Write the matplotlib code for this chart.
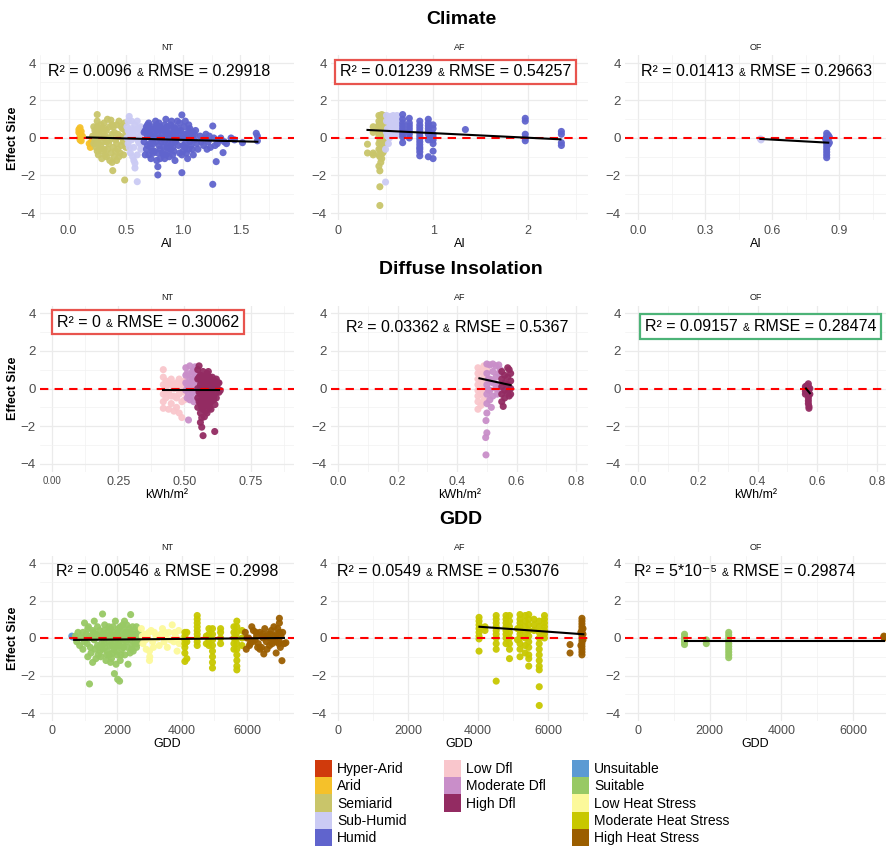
import matplotlib
matplotlib.use('Agg')
import matplotlib.pyplot as plt
import numpy as np
from matplotlib.patches import Patch
from matplotlib.ticker import MultipleLocator
from matplotlib.offsetbox import TextArea, HPacker, AnchoredOffsetbox

plt.rcParams['font.family'] = ['Liberation Sans', 'DejaVu Sans']

# ---------------------------------------------------------------------------
# Data: (x, effect size) pairs per class and panel
# ---------------------------------------------------------------------------
# Climate (AI) - NT
ai_nt_arid = [(0.09, 0.45), (0.09, 0.30), (0.10, 0.20), (0.10, 0.05), (0.10, -0.10),
              (0.11, 0.35), (0.11, -0.15), (0.12, 0.10), (0.10, 0.55), (0.18, -0.30),
              (0.19, -0.50), (0.20, -0.20)]
ai_nt_semi = [(0.21, 0.1), (0.22, -0.3), (0.23, 0.4), (0.24, -0.5), (0.25, 1.25), (0.25, 0.9),
              (0.25, 0.6), (0.25, 0.3), (0.25, -0.1), (0.25, -0.7), (0.26, -0.9), (0.27, 0.2),
              (0.28, -0.4), (0.29, 0.5), (0.30, -0.2), (0.31, 0.8), (0.31, -0.6), (0.32, 0.1),
              (0.33, -1.0), (0.33, 0.4), (0.34, 1.0), (0.35, -0.3), (0.36, 0.6), (0.37, -0.8),
              (0.37, 0.95), (0.38, -1.3), (0.38, 0.2), (0.386, -1.74), (0.39, -0.5), (0.40, 0.3),
              (0.41, -0.1), (0.42, 0.7), (0.43, -0.6), (0.44, 0.9), (0.45, 0.1), (0.46, -0.4),
              (0.47, 0.5), (0.48, -0.2), (0.49, 0.8), (0.49, -2.24), (0.44, -1.0), (0.29, -1.1),
              (0.35, 0.0), (0.27, -0.6), (0.23, -0.1), (0.26, 0.5), (0.30, 0.3), (0.34, -0.6),
              (0.39, 0.6), (0.42, -0.3), (0.45, -0.8), (0.47, 0.0), (0.32, -0.9), (0.40, -1.0),
              (0.22, 0.6), (0.24, 0.2), (0.26, -0.3), (0.28, 0.7), (0.30, -0.7), (0.32, 0.5),
              (0.33, -0.2), (0.36, -0.1), (0.38, 0.7), (0.41, -0.7), (0.43, 0.2), (0.46, 0.6),
              (0.48, -0.9), (0.50, 0.3), (0.50, -0.5), (0.31, 0.0), (0.36, -1.2), (0.42, -1.2)]
ai_nt_subh = [(0.51, 0.6), (0.52, -0.3), (0.53, 1.15), (0.53, 0.2), (0.54, -0.8), (0.55, 0.9),
              (0.55, -0.1), (0.56, 0.4), (0.57, -0.5), (0.57, -1.2), (0.58, -1.6), (0.58, 0.7),
              (0.59, 0.0), (0.60, -2.33), (0.60, -0.9), (0.61, 0.5), (0.62, -0.3), (0.63, 0.6),
              (0.63, -0.6), (0.64, 0.2), (0.56, -1.0), (0.52, 0.9), (0.54, 0.3), (0.60, 0.9),
              (0.58, -1.35), (0.62, 0.1), (0.51, 0.0), (0.55, 0.5), (0.53, -0.5), (0.57, 0.1),
              (0.59, 0.4), (0.61, -0.2), (0.64, -0.4), (0.52, 0.4)]
ai_nt_humid = [(0.66, -0.2), (0.67, 0.4), (0.68, -0.6), (0.69, 0.1), (0.70, 0.8), (0.70, -0.9),
               (0.71, -0.3), (0.72, 0.5), (0.73, -0.1), (0.74, 0.2), (0.75, -0.7), (0.76, 0.9),
               (0.77, -1.2), (0.78, -1.53), (0.78, -1.97), (0.78, 0.3), (0.79, -0.4), (0.80, 0.6),
               (0.81, 0.0), (0.82, -0.8), (0.83, 0.4), (0.84, -0.2), (0.85, 1.0), (0.86, -0.5),
               (0.87, 0.2), (0.88, -1.0), (0.89, 0.7), (0.90, -0.3), (0.91, 0.1), (0.92, -0.7),
               (0.93, 0.5), (0.94, -0.1), (0.95, 0.9), (0.96, -0.4), (0.97, 0.3), (0.99, 1.23),
               (0.99, -1.85), (0.99, -0.9), (1.00, 0.0), (1.01, 0.6), (1.02, -0.5), (1.03, 0.2),
               (1.04, -1.1), (1.05, 0.4), (1.06, -0.2), (1.07, 0.1), (1.08, -0.6), (1.09, 0.3),
               (1.10, -0.1), (1.12, -0.3), (1.15, 0.1), (1.18, -0.4), (1.20, 0.2), (1.22, -0.2),
               (1.24, -0.5), (1.26, 0.64), (1.26, -2.47), (1.27, 0.0), (1.29, -1.26), (1.30, -0.3),
               (1.32, -0.1), (1.35, -0.78), (1.36, -0.2), (1.42, 0.0), (1.45, -0.1), (1.52, -0.25),
               (1.64, 0.25), (1.65, 0.1), (1.65, -0.15), (0.72, -0.5), (0.83, -0.9), (0.93, -1.2),
               (1.00, -0.7), (0.75, 0.1), (0.88, 0.5), (0.97, 0.8), (0.80, -0.6), (0.90, 0.2),
               (1.05, 0.7), (0.70, 0.3), (0.68, 0.6), (0.74, -0.3), (0.77, 0.7), (0.81, -0.2),
               (0.85, 0.1), (0.87, -0.7), (0.91, -0.5), (0.95, 0.0), (0.98, 0.4), (1.02, -0.3),
               (1.07, -0.4), (0.79, 0.0), (0.86, 0.6), (0.92, 0.3), (1.03, -0.8), (1.10, 0.2),
               (0.67, -0.9), (0.69, 0.7), (0.71, 0.2), (0.72, -1.1), (0.73, 0.6), (0.74, -0.8),
               (0.76, -0.2), (0.77, 0.4), (0.78, -0.8), (0.79, 0.8), (0.80, -1.1), (0.81, 0.5),
               (0.82, 0.2), (0.83, -0.5), (0.84, 0.7), (0.85, -0.9), (0.86, 0.3), (0.87, -0.3),
               (0.88, 0.0), (0.89, -0.6), (0.90, 0.9), (0.91, -0.9), (0.92, 0.6), (0.93, -0.2),
               (0.94, 0.3), (0.96, 0.5), (0.97, -0.8), (0.98, 0.0), (1.00, -0.4), (1.01, 0.2),
               (1.02, 0.9), (1.04, 0.0), (1.05, -0.6), (1.06, 0.5), (1.08, 0.1), (1.09, -0.9),
               (1.11, 0.4), (1.13, -0.6), (1.16, -0.2), (1.19, 0.0), (1.21, -0.6), (1.23, 0.1),
               (1.28, -0.4), (1.33, 0.0), (1.38, -0.3), (0.66, 0.3), (0.69, -0.4), (0.73, -0.7),
               (0.76, 0.5), (0.84, -1.1)]
# Climate (AI) - AF
ai_af_semi = [(0.31, -0.33), (0.31, -0.8), (0.37, 0.6), (0.37, 0.3), (0.37, -0.8), (0.37, -0.9),
              (0.43, 1.2), (0.43, 0.9), (0.43, 0.5), (0.43, 0.1), (0.43, -0.3), (0.43, -0.9),
              (0.43, -1.5), (0.44, -1.75), (0.44, -2.6), (0.44, -3.6), (0.46, 1.25), (0.46, 1.0),
              (0.46, 0.7), (0.46, 0.4), (0.46, 0.0), (0.46, -0.5), (0.46, -1.1), (0.48, 1.2),
              (0.48, 0.8), (0.48, 0.3), (0.48, -0.2), (0.48, -0.7), (0.49, 1.1), (0.49, 0.6),
              (0.44, 0.7), (0.44, 0.3), (0.44, -0.1), (0.44, -0.6), (0.45, -1.3), (0.47, 0.2),
              (0.47, -0.8), (0.45, 1.1), (0.45, 0.6), (0.45, -0.2), (0.43, 0.3), (0.43, -0.6),
              (0.43, 0.7), (0.46, 0.2), (0.46, -0.3), (0.46, -0.8), (0.48, 0.0), (0.48, -0.45),
              (0.48, 1.0), (0.44, -1.0), (0.45, 0.0), (0.47, -0.4), (0.47, 0.9), (0.49, 0.3)]
ai_af_subh = [(0.50, -0.6), (0.50, -2.35), (0.51, 1.2), (0.51, 0.9), (0.52, 0.5), (0.52, 0.1),
              (0.55, 1.15), (0.55, 0.7), (0.58, 1.2), (0.58, 0.9), (0.60, 0.5), (0.60, 0.2),
              (0.62, 1.2), (0.62, 0.8), (0.64, 0.4), (0.65, 1.0), (0.66, 0.3), (0.53, -0.3),
              (0.56, 0.4), (0.59, 0.7), (0.63, 0.6), (0.51, 0.3), (0.53, 0.9), (0.54, 0.0),
              (0.57, 0.5), (0.61, 1.0), (0.63, 0.2), (0.66, 0.8), (0.55, 0.2)]
ai_af_humid = [(0.68, 1.25), (0.68, 1.0), (0.68, 0.8), (0.68, 0.5), (0.68, 0.2), (0.68, -0.25),
               (0.68, 0.65), (0.68, 0.35), (0.68, 0.05), (0.75, 1.05), (0.75, 0.8), (0.75, 0.5),
               (0.75, 0.2), (0.75, 0.0), (0.75, 0.65), (0.75, 0.35), (0.86, 0.9), (0.86, 0.7),
               (0.86, 0.4), (0.86, 0.1), (0.86, -0.2), (0.86, -0.5), (0.86, -0.75), (0.86, -0.95),
               (0.86, 0.55), (0.86, 0.25), (0.86, -0.05), (0.86, -0.35), (0.86, -0.6), (0.95, 1.0),
               (0.95, 0.8), (0.95, 0.5), (0.95, 0.2), (0.95, -0.1), (0.95, -1.0), (0.95, 0.65),
               (0.95, 0.35), (1.0, 0.7), (1.0, 0.5), (1.0, 0.2), (1.0, -0.3), (1.0, -0.7),
               (1.0, -1.1), (1.0, 0.05), (1.0, -0.1), (1.34, 0.45), (1.97, 1.05), (1.97, 0.9),
               (1.97, 0.2), (1.97, 0.0), (1.97, -0.15), (2.35, 0.35), (2.35, 0.2), (2.35, -0.25),
               (2.35, -0.4)]
# Climate (AI) - OF
ai_of_subh = [(0.547, -0.05), (0.55, -0.1)]
ai_of_humid = [(0.843, 0.25), (0.843, 0.1), (0.843, 0.0), (0.843, -0.1), (0.843, -0.2),
               (0.843, -0.3), (0.843, -0.45), (0.843, -0.6), (0.843, -0.75), (0.843, -0.9),
               (0.843, -1.05), (0.85, 0.15), (0.85, -0.35), (0.838, -0.05), (0.855, 0.05),
               (0.855, -0.25)]
# Diffuse insolation - NT
dif_nt_low = [(0.42, 1.0), (0.42, 0.6), (0.42, 0.2), (0.42, -0.3), (0.42, -0.7), (0.42, -1.05),
              (0.43, 0.1), (0.43, -0.5), (0.44, 0.3), (0.44, -0.2), (0.45, -0.8), (0.45, 0.2),
              (0.46, 0.0), (0.46, -0.4), (0.47, 0.3), (0.47, -1.0), (0.48, 0.5), (0.48, -0.3),
              (0.49, -1.54), (0.49, 0.1), (0.49, -0.7), (0.50, 0.4), (0.50, -0.2), (0.44, -1.1),
              (0.46, -1.2), (0.48, -1.3), (0.43, 0.4), (0.43, -0.2), (0.45, 0.5), (0.46, 0.2),
              (0.47, -0.5), (0.48, 0.1), (0.49, 0.3), (0.50, -0.6), (0.45, -0.4), (0.47, 0.0),
              (0.50, 0.1)]
dif_nt_mod = [(0.505, 1.1), (0.505, 0.7), (0.505, 0.3), (0.505, -0.1), (0.51, -0.5), (0.515, -1.67),
              (0.52, 1.2), (0.52, 0.5), (0.52, 0.0), (0.525, -0.4), (0.53, 0.9), (0.53, 0.2),
              (0.535, -0.7), (0.54, 1.15), (0.54, 0.6), (0.545, -0.2), (0.55, 0.3), (0.55, -0.5),
              (0.51, 0.2), (0.53, -0.2), (0.51, 0.8), (0.515, -0.3), (0.52, -0.6), (0.525, 0.7),
              (0.53, 0.4), (0.54, -0.1), (0.545, 0.8), (0.55, 0.0), (0.535, 1.0), (0.52, 0.25)]
dif_nt_high = [(0.55, 1.0), (0.55, 0.5), (0.55, 0.0), (0.55, -0.5), (0.55, -1.0), (0.555, 1.2),
               (0.56, 0.7), (0.56, 0.2), (0.56, -0.3), (0.56, -0.8), (0.56, -1.3), (0.56, -1.8),
               (0.565, -2.05), (0.57, -2.5), (0.57, 0.9), (0.57, 0.4), (0.57, -0.1), (0.57, -0.6),
               (0.57, -1.1), (0.575, -1.5), (0.58, 0.6), (0.58, 0.1), (0.58, -0.4), (0.58, -0.9),
               (0.585, -1.3), (0.59, 0.5), (0.59, 0.0), (0.59, -0.5), (0.595, -1.0), (0.60, 0.3),
               (0.60, -0.2), (0.60, -0.7), (0.605, 0.6), (0.61, 0.1), (0.61, -0.4), (0.614, -2.28),
               (0.615, -0.85), (0.62, 0.5), (0.62, 0.2), (0.62, -0.2), (0.625, 0.0), (0.63, 0.3),
               (0.635, -0.1), (0.565, 0.0), (0.575, 0.3), (0.585, 0.8), (0.595, 0.2), (0.605, -0.1),
               (0.555, -0.2), (0.565, -1.55), (0.56, 0.45), (0.58, -0.2), (0.60, 0.0), (0.57, -0.35),
               (0.555, 0.6), (0.56, -0.05), (0.565, 0.35), (0.565, -0.7), (0.57, 0.65), (0.575, -0.8),
               (0.58, -1.2), (0.585, 0.3), (0.585, -0.6), (0.59, 0.9), (0.59, -0.3), (0.595, 0.6),
               (0.595, -0.7), (0.60, -1.1), (0.605, 0.2), (0.61, -0.6), (0.615, 0.4), (0.62, -0.5),
               (0.625, 0.3), (0.63, -0.2), (0.555, -0.7), (0.565, -1.0), (0.575, 0.05), (0.58, -0.6),
               (0.59, -0.9), (0.60, -0.45), (0.61, 0.35), (0.62, 0.0)]
# Diffuse insolation - AF
dif_af_low = [(0.47, 1.1), (0.47, 0.8), (0.47, 0.5), (0.47, 0.2), (0.47, -0.1), (0.47, -0.4),
              (0.47, -0.7), (0.47, -1.1), (0.48, 0.9), (0.48, 0.3), (0.48, -0.3), (0.48, -0.9),
              (0.49, 1.2), (0.49, 0.6), (0.49, 0.0), (0.49, -0.6), (0.50, 1.0), (0.50, 0.4)]
dif_af_mod = [(0.50, 1.3), (0.50, 0.8), (0.50, 0.2), (0.50, -0.3), (0.50, -0.8), (0.50, -1.3),
              (0.497, -1.7), (0.50, -2.35), (0.496, -2.6), (0.497, -3.52), (0.51, 1.25), (0.51, 0.5),
              (0.51, -0.1), (0.51, -0.6), (0.515, -1.0), (0.52, 1.3), (0.52, 0.9), (0.52, 0.3),
              (0.52, -0.4), (0.53, 1.2), (0.53, 0.6), (0.53, 0.0), (0.535, -0.3), (0.54, 1.25),
              (0.54, 0.8), (0.54, 0.2), (0.545, 1.0), (0.545, -0.1), (0.505, 0.5), (0.505, -0.05)]
dif_af_high = [(0.55, 0.9), (0.55, 0.5), (0.55, 0.1), (0.55, -0.3), (0.55, -0.7), (0.555, -0.95),
               (0.56, 0.7), (0.56, 0.3), (0.56, -0.1), (0.56, -0.5), (0.57, 1.1), (0.57, 0.6),
               (0.57, 0.2), (0.57, -0.2), (0.575, 1.0), (0.575, -0.4), (0.58, 0.4), (0.58, 0.0),
               (0.58, -0.3), (0.58, 0.8)]
# Diffuse insolation - OF
dif_of_high = [(0.56, 0.1), (0.56, 0.0), (0.56, -0.15), (0.56, -0.3), (0.565, 0.15), (0.57, 0.25),
               (0.57, 0.1), (0.57, -0.05), (0.57, -0.2), (0.57, -0.35), (0.57, -0.5), (0.57, -0.65),
               (0.57, -0.8), (0.572, -0.95), (0.572, -1.05), (0.575, 0.0), (0.575, -0.3)]
# GDD - NT
gdd_nt_unsuit = [(609, 0.1), (640, 0.05)]
gdd_nt_suit = [(720, 0.1), (760, -0.2), (800, 0.3), (850, -0.4), (900, 0.0), (950, -0.6), (1000, 0.8),
               (1050, 0.2), (1080, -0.3), (1100, 0.5), (1153, -2.45), (1200, -0.8), (1250, 0.4),
               (1300, -0.1), (1350, -1.1), (1400, 0.6), (1450, -0.5), (1500, 0.1), (1555, 1.28),
               (1600, -0.3), (1620, 0.7), (1680, -0.9), (1700, 0.3), (1750, -0.2), (1800, 0.5),
               (1830, -1.1), (1870, 0.0), (1900, -0.6), (1920, -1.9), (1950, 0.9), (1970, -1.4),
               (2000, 0.2), (2020, -2.2), (2050, -0.4), (2080, -2.3), (2100, 0.6), (2120, -0.9),
               (2150, 0.1), (2200, -0.5), (2230, 0.9), (2260, 0.3), (2300, -0.2), (2340, -1.4),
               (2380, 0.5), (2420, 1.25), (2450, -0.6), (2500, 0.2), (2550, -0.3), (2600, 0.6),
               (2650, -0.1), (1100, -1.0), (1300, 0.9), (1500, -1.0), (1700, -0.7), (2000, -0.9),
               (2200, 0.4), (2400, -0.8), (1900, 0.3), (1400, -0.4), (2600, -0.5), (1000, -0.2),
               (2100, -1.2), (1800, -1.3), (1250, -1.3), (1600, 0.4), (2300, 0.7), (950, 0.3),
               (2500, -0.7), (1150, 0.1), (1350, 0.2), (1550, -0.6), (1750, 0.6), (1950, -0.2),
               (2150, -0.6), (2350, 0.0), (2550, 0.4), (1650, 0.0), (1850, -0.4), (2050, 0.5),
               (1120, 0.6), (1180, -0.5), (1230, 0.0), (1280, 0.3), (1330, -0.6), (1380, 0.1),
               (1420, -0.9), (1470, 0.4), (1520, -0.3), (1570, 0.2), (1630, -0.5), (1660, -1.2),
               (1720, 0.1), (1780, -0.4), (1820, 0.2), (1860, -0.8), (1880, 0.6), (1930, 0.0),
               (1980, -0.7), (2030, 0.3), (2060, -0.2), (2110, 0.0), (2170, -0.3), (2180, 0.7),
               (2240, -0.9), (2280, 0.1), (2320, -0.5), (2360, 0.3), (2400, -0.1), (2440, 0.2),
               (2470, -0.4), (2520, 0.0), (2580, 0.1), (2620, -0.3), (2660, 0.3), (2480, 0.6),
               (2250, -0.1), (2010, -0.4), (1760, -0.9), (1480, -0.7)]
gdd_nt_low = [(2750, 0.5), (2800, -0.3), (2850, 0.2), (2900, -0.6), (2950, 0.0), (3000, -1.2),
              (3008, -1.0), (3050, 0.4), (3100, -0.2), (3200, 0.1), (3300, -0.4), (3400, 0.5),
              (3500, 0.0), (3550, -0.5), (3600, 0.3), (3700, 0.7), (3750, -0.2), (3800, 0.1),
              (3850, -0.7), (3900, 0.4), (3950, -0.1), (3000, -0.7), (3150, 0.3), (3450, -0.2),
              (2780, 0.1), (2880, -0.1), (2980, 0.3), (3120, -0.5), (3250, 0.0), (3350, 0.2),
              (3480, 0.3), (3650, -0.1), (3780, 0.3), (3920, -0.3)]
gdd_nt_mod = [(4090, 0.3), (4090, 0.1), (4090, -0.1), (4090, -0.3), (4090, -0.5), (4090, -0.8),
              (4090, -1.25), (4150, 0.3), (4150, -0.2), (4150, -1.1), (4470, 1.2), (4470, 1.0),
              (4470, 0.8), (4470, 0.6), (4470, 0.4), (4470, 0.2), (4470, 0.0), (4470, -0.2),
              (4470, -0.4), (4750, 0.1), (4750, -0.3), (4830, 0.5), (4830, 0.2), (4830, -0.1),
              (4830, -0.4), (4940, 0.5), (4940, 0.2), (4940, -0.1), (4940, -0.4), (4940, -0.7),
              (4940, -1.0), (4940, -1.3), (4940, -1.6), (5190, 0.5), (5190, 0.3), (5190, 0.0),
              (5190, -0.3), (5600, 0.6), (5600, 0.3), (5600, 0.0), (5600, -0.3), (5600, -0.6),
              (5690, 0.9), (5690, 0.6), (5690, 0.3), (5690, 0.0), (5690, -0.3), (5690, -0.6),
              (5690, -0.9), (5690, -1.2), (5690, -1.5), (5690, -1.7), (5850, 0.4), (5850, 0.0),
              (5850, -0.4)]
gdd_nt_high = [(5950, 0.3), (5980, -0.6), (6050, 0.0), (6100, -0.3), (6200, 0.4), (6250, -0.1),
               (6300, 0.1), (6350, -0.3), (6400, 0.3), (6450, -0.5), (6500, 0.0), (6520, -0.85),
               (6550, 0.5), (6600, -0.2), (6650, 0.2), (6700, -0.4), (6750, 0.4), (6800, -0.1),
               (6850, 0.1), (6900, -0.8), (6950, 0.5), (7000, 1.05), (7000, 0.8), (7000, 0.3),
               (7000, -0.2), (7030, -0.5), (7079, -1.21), (7150, -0.3), (7200, -0.25), (6150, 0.6),
               (6400, -0.6), (6700, 0.0), (6000, 0.0), (6080, -0.4), (6180, -0.2), (6280, 0.3),
               (6330, -0.5), (6480, 0.2), (6580, 0.1), (6620, -0.6), (6720, 0.2), (6780, -0.3),
               (6830, 0.6), (6880, -0.2), (6920, 0.2), (6980, -0.3), (7050, 0.1), (7100, 0.3)]
# GDD - AF
gdd_af_mod = [(4030, 1.1), (4030, 0.9), (4030, 0.7), (4030, 0.5), (4030, 0.3), (4030, 0.1),
              (4030, -0.05), (4030, -0.7), (4200, 0.6), (4200, 0.4), (4520, 1.2), (4520, 1.0),
              (4520, 0.8), (4520, 0.6), (4520, 0.4), (4520, 0.2), (4520, 0.0), (4520, -0.3),
              (4520, -0.6), (4520, -2.3), (4800, 1.2), (4800, 1.0), (4800, 0.8), (4800, 0.6),
              (4800, 0.4), (4800, 0.2), (4800, 0.0), (4800, -0.3), (4900, 1.2), (4900, 0.9),
              (4900, 0.6), (4900, 0.3), (4900, 0.0), (4900, -0.3), (4900, -0.6), (4900, -1.1),
              (5200, 1.25), (5200, 1.0), (5200, 0.8), (5200, 0.6), (5200, 0.4), (5200, 0.2),
              (5200, 0.0), (5200, -0.3), (5200, -0.6), (5200, -1.0), (5350, 1.2), (5350, 0.9),
              (5350, 0.6), (5350, 0.3), (5350, 0.0), (5350, -0.4), (5350, -0.8), (5450, 1.25),
              (5450, 1.0), (5450, 0.7), (5450, 0.4), (5450, 0.1), (5450, -0.2), (5450, -0.5),
              (5450, -0.9), (5450, -1.1), (5450, -1.5), (5600, 1.0), (5600, 0.7), (5600, 0.4),
              (5750, 0.9), (5750, 0.6), (5750, 0.3), (5750, 0.0), (5750, -0.3), (5750, -0.6),
              (5750, -0.9), (5750, -1.2), (5750, -1.5), (5750, -1.7), (5750, -2.6), (5750, -3.6),
              (5900, 1.2), (5900, 1.0), (5900, 0.8), (5900, 0.6), (5900, 0.4), (5900, 0.2),
              (5900, 0.0), (5130, 0.5), (5130, -0.1)]
gdd_af_high = [(6630, -0.35), (6630, -0.8), (6970, 1.05), (6970, 0.9), (6970, 0.75), (6970, 0.6),
               (6970, 0.45), (6970, 0.3), (6970, 0.15), (6970, 0.0), (6970, -0.15), (6970, -0.3),
               (6970, -0.45), (6970, -0.6), (6970, -0.75), (6970, -0.9), (7000, 0.5), (7000, 0.2),
               (7000, -0.1), (6940, 0.3), (6940, -0.4)]
# GDD - OF
gdd_of_suit = [(1297, 0.2), (1297, 0.05), (1297, -0.1), (1297, -0.2), (1297, -0.35), (1905, -0.1),
               (1905, -0.3), (2530, 0.3), (2530, 0.15), (2530, 0.0), (2530, -0.15), (2530, -0.3),
               (2530, -0.45), (2530, -0.6), (2530, -0.75), (2530, -0.9), (2530, -1.05)]
gdd_of_high = [(6862, 0.05), (6870, 0.0), (6860, 0.1)]

# Regression line end points (x0, x1), (y0, y1)
fit_ai_nt = ([0.16, 1.65], [0.03, -0.2])
fit_ai_af = ([0.31, 2.34], [0.43, -0.07])
fit_ai_of = ([0.547, 0.85], [-0.05, -0.25])
fit_dif_nt = ([0.42, 0.63], [-0.1, -0.1])
fit_dif_af = ([0.475, 0.58], [0.54, 0.18])
fit_dif_of = ([0.562, 0.575], [0.0, -0.25])
fit_gdd_nt = ([680, 7140], [-0.1, 0.0])
fit_gdd_af = ([4040, 7010], [0.6, 0.2])
fit_gdd_of = ([1300, 6870], [-0.15, -0.15])

# Fit statistics
r2_ai = ['0.0096', '0.01239', '0.01413']
rmse_ai = ['0.29918', '0.54257', '0.29663']
r2_dif = ['0', '0.03362', '0.09157']
rmse_dif = ['0.30062', '0.5367', '0.28474']
r2_gdd = ['0.00546', '0.0549', '5*10\u207b\u2075']
rmse_gdd = ['0.2998', '0.53076', '0.29874']

# Tick labels
ticks_ai_nt = [0.0, 0.5, 1.0, 1.5]
ticks_ai_af = [0, 1, 2]
ticks_ai_of = [0.0, 0.3, 0.6, 0.9]
ticks_dif_nt = [0.0, 0.25, 0.5, 0.75]
ticks_dif = [0.0, 0.2, 0.4, 0.6, 0.8]
ticks_gdd = [0, 2000, 4000, 6000]

# Legend entries
climate_classes = ['Hyper-Arid', 'Arid', 'Semiarid', 'Sub-Humid', 'Humid']
dfl_classes = ['Low Dfl', 'Moderate Dfl', 'High Dfl']
gdd_classes = ['Unsuitable', 'Suitable', 'Low Heat Stress', 'Moderate Heat Stress', 'High Heat Stress']

colors = {
    'Hyper-Arid': '#D03A0C', 'Arid': '#F5C12A', 'Semiarid': '#C9C56A',
    'Sub-Humid': '#CBCBF4', 'Humid': '#6064CD',
    'Low Dfl': '#F9C6CC', 'Moderate Dfl': '#C98EC9', 'High Dfl': '#932B62',
    'Unsuitable': '#5B9AD3', 'Suitable': '#98C964', 'Low Heat Stress': '#FCF99A',
    'Moderate Heat Stress': '#C8C800', 'High Heat Stress': '#9B5E00',
}

# ---------------------------------------------------------------------------
# Figure layout (pixel-based panel rectangles)
# ---------------------------------------------------------------------------
W, H = 889, 847
fig = plt.figure(figsize=(W / 100, H / 100), dpi=100)

col_px = [(40, 294), (331, 588), (625, 886)]
row_px = [(55.5, 220.5), (305.5, 471.5), (555.5, 720.5)]


def make_ax(r, c):
    x0, x1 = col_px[c]
    y0, y1 = row_px[r]
    return fig.add_axes([x0 / W, 1 - y1 / H, (x1 - x0) / W, (y1 - y0) / H])


def add_stat(ax, r2, rmse, fx, fy=0.9, edge=None):
    parts = [TextArea('R\u00b2 = ' + r2, textprops=dict(size=11.5)),
             TextArea('&', textprops=dict(size=7.5)),
             TextArea('RMSE = ' + rmse, textprops=dict(size=11.5))]
    pack = HPacker(children=parts, align='baseline', pad=0, sep=3.5)
    box = AnchoredOffsetbox(loc='center', child=pack, pad=0.3, borderpad=0,
                            frameon=edge is not None, prop=dict(size=11.5),
                            bbox_to_anchor=(fx, fy), bbox_transform=ax.transAxes)
    if edge is not None:
        box.patch.set_edgecolor(edge)
        box.patch.set_linewidth(1.6)
    ax.add_artist(box)


def style_panel(ax, xlim, xticks, minor, xlabel, strip, left):
    ax.set_xlim(*xlim)
    ax.set_ylim(-4.4, 4.4)
    ax.set_xticks(xticks)
    ax.xaxis.set_minor_locator(MultipleLocator(minor))
    ax.set_yticks([-4, -2, 0, 2, 4])
    ax.yaxis.set_minor_locator(MultipleLocator(1))
    ax.grid(True, which='major', color='#EBEBEB', lw=0.9)
    ax.grid(True, which='minor', color='#F2F2F2', lw=0.5)
    ax.set_axisbelow(True)
    for s in ax.spines.values():
        s.set_visible(False)
    ax.tick_params(which='both', length=0)
    ax.tick_params(axis='x', labelsize=9, labelcolor='#4D4D4D', pad=3)
    ax.tick_params(axis='y', labelsize=9.5, labelcolor='#4D4D4D', pad=3)
    ax.set_xlabel(xlabel, fontsize=9, labelpad=1)
    if left:
        ax.set_ylabel('Effect Size', fontsize=9, fontweight='bold', labelpad=1)
    ax.set_title(strip, fontsize=6.5, color='#1A1A1A', pad=4)
    ax.axhline(0, color='red', ls=(0, (4, 3)), lw=1.5, zorder=3)


def scatter(ax, pts, cls):
    arr = np.array(pts, dtype=float)
    ax.scatter(arr[:, 0], arr[:, 1], s=26, color=colors[cls], alpha=0.95,
               edgecolors='none', zorder=2)


def fit(ax, line):
    ax.plot(line[0], line[1], color='black', lw=1.5, zorder=4)


# Row 1: Climate
ax = make_ax(0, 0)
style_panel(ax, (-0.25, 1.97), ticks_ai_nt, 0.25, 'AI', 'NT', True)
for pts, cls in [(ai_nt_arid, 'Arid'), (ai_nt_semi, 'Semiarid'),
                 (ai_nt_subh, 'Sub-Humid'), (ai_nt_humid, 'Humid')]:
    scatter(ax, pts, cls)
fit(ax, fit_ai_nt)
add_stat(ax, r2_ai[0], rmse_ai[0], 0.47)

ax = make_ax(0, 1)
style_panel(ax, (-0.074, 2.63), ticks_ai_af, 0.5, 'AI', 'AF', False)
for pts, cls in [(ai_af_semi, 'Semiarid'), (ai_af_subh, 'Sub-Humid'), (ai_af_humid, 'Humid')]:
    scatter(ax, pts, cls)
fit(ax, fit_ai_af)
add_stat(ax, r2_ai[1], rmse_ai[1], 0.486, edge='#E8544E')

ax = make_ax(0, 2)
style_panel(ax, (-0.058, 1.108), ticks_ai_of, 0.15, 'AI', 'OF', False)
for pts, cls in [(ai_of_subh, 'Sub-Humid'), (ai_of_humid, 'Humid')]:
    scatter(ax, pts, cls)
fit(ax, fit_ai_of)
add_stat(ax, r2_ai[2], rmse_ai[2], 0.504)

# Row 2: Diffuse insolation
ax = make_ax(1, 0)
style_panel(ax, (-0.045, 0.913), ticks_dif_nt, 0.125, 'kWh/m\u00b2', 'NT', True)
ax.set_xticklabels(['0.00', '0.25', '0.50', '0.75'])
ax.get_xticklabels()[0].set_fontsize(7)
for pts, cls in [(dif_nt_low, 'Low Dfl'), (dif_nt_mod, 'Moderate Dfl'), (dif_nt_high, 'High Dfl')]:
    scatter(ax, pts, cls)
fit(ax, fit_dif_nt)
add_stat(ax, r2_dif[0], rmse_dif[0], 0.425, edge='#E8544E')

ax = make_ax(1, 1)
style_panel(ax, (-0.024, 0.84), ticks_dif, 0.1, 'kWh/m\u00b2', 'AF', False)
for pts, cls in [(dif_af_low, 'Low Dfl'), (dif_af_mod, 'Moderate Dfl'), (dif_af_high, 'High Dfl')]:
    scatter(ax, pts, cls)
fit(ax, fit_dif_af)
add_stat(ax, r2_dif[1], rmse_dif[1], 0.49, fy=0.87)

ax = make_ax(1, 2)
style_panel(ax, (-0.044, 0.83), ticks_dif, 0.1, 'kWh/m\u00b2', 'OF', False)
scatter(ax, dif_of_high, 'High Dfl')
fit(ax, fit_dif_of)
add_stat(ax, r2_dif[2], rmse_dif[2], 0.52, fy=0.875, edge='#4CB377')

# Row 3: GDD
ax = make_ax(2, 0)
style_panel(ax, (-371, 7450), ticks_gdd, 1000, 'GDD', 'NT', True)
for pts, cls in [(gdd_nt_unsuit, 'Unsuitable'), (gdd_nt_suit, 'Suitable'),
                 (gdd_nt_low, 'Low Heat Stress'), (gdd_nt_mod, 'Moderate Heat Stress'),
                 (gdd_nt_high, 'High Heat Stress')]:
    scatter(ax, pts, cls)
fit(ax, fit_gdd_nt)
add_stat(ax, r2_gdd[0], rmse_gdd[0], 0.50)

ax = make_ax(2, 1)
style_panel(ax, (-200, 7143), ticks_gdd, 1000, 'GDD', 'AF', False)
for pts, cls in [(gdd_af_mod, 'Moderate Heat Stress'), (gdd_af_high, 'High Heat Stress')]:
    scatter(ax, pts, cls)
fit(ax, fit_gdd_af)
add_stat(ax, r2_gdd[1], rmse_gdd[1], 0.455)

ax = make_ax(2, 2)
style_panel(ax, (-364, 6919), ticks_gdd, 1000, 'GDD', 'OF', False)
for pts, cls in [(gdd_of_suit, 'Suitable'), (gdd_of_high, 'High Heat Stress')]:
    scatter(ax, pts, cls)
fit(ax, fit_gdd_of)
add_stat(ax, r2_gdd[2], rmse_gdd[2], 0.458)

# Row titles
for y_px, title in [(19, 'Climate'), (269, 'Diffuse Insolation'), (519, 'GDD')]:
    fig.text(461 / W, 1 - y_px / H, title, ha='center', va='center',
             fontsize=14, fontweight='bold')

# Legends (swatches touch each other, as in the ggplot key)
for x_px, classes in [(315, climate_classes), (444, dfl_classes), (572, gdd_classes)]:
    handles = [Patch(facecolor=colors[c], edgecolor='none') for c in classes]
    fig.legend(handles, classes, loc='upper left', bbox_to_anchor=(x_px / W, 1 - 760 / H),
               frameon=False, fontsize=10, handlelength=1.22, handleheight=1.53,
               handletextpad=0.36, labelspacing=0.0, borderpad=0, borderaxespad=0)

fig.savefig('out.png', dpi=100)
